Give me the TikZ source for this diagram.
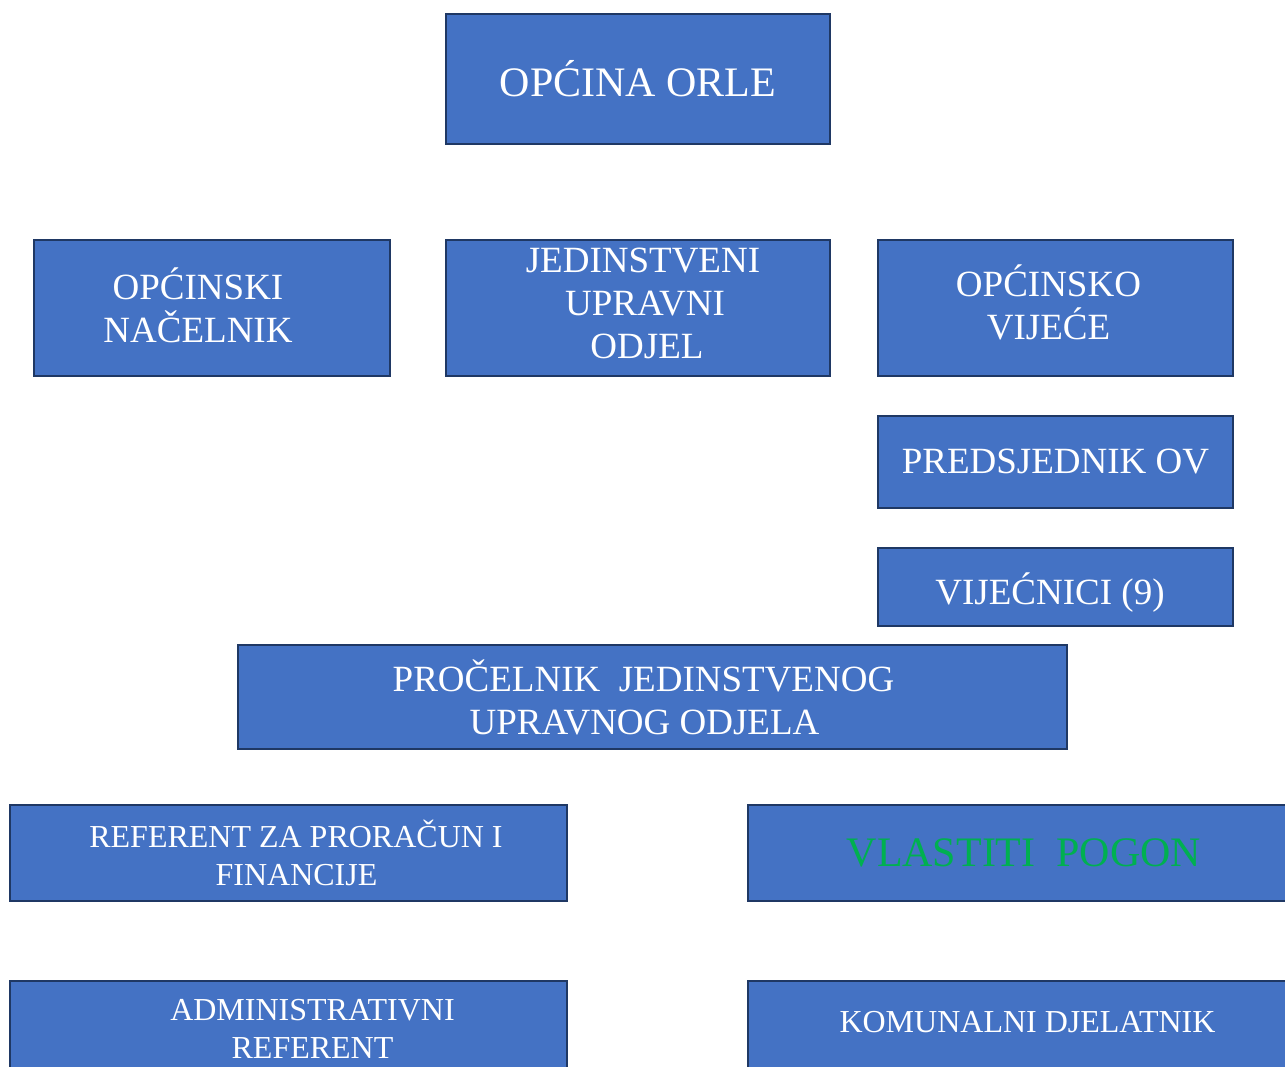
\documentclass[tikz,border=0pt]{standalone}
\usepackage{fontspec}
\setmainfont{Liberation Serif}
\definecolor{boxblue}{HTML}{4472C4}
\definecolor{boxedge}{HTML}{1F3864}
\definecolor{pogongreen}{HTML}{00B050}
\tikzset{
    unit/.style={draw=boxedge, fill=boxblue, line width=2.5pt, text=white,
        inner sep=0pt, align=center, font=\fontsize{37}{43}\selectfont},
    bigunit/.style={unit, font=\fontsize{42}{50}\selectfont},
    smallunit/.style={unit, font=\fontsize{32}{38}\selectfont},
}
\begin{document}
\begin{tikzpicture}[x=1pt,y=-1pt]
        \useasboundingbox (0,0) rectangle (1285,1066);
        % nodes
        \node[bigunit, minimum width=384pt, minimum height=130pt] (orle) at (638,79) {OPĆINA ORLE};
            \node[unit, minimum width=356pt, minimum height=136pt, text depth=6pt] (nacelnik) at (212,308) {\hspace*{-28pt}OPĆINSKI\\\hspace*{-28pt}NAČELNIK};
            \node[unit, minimum width=384pt, minimum height=136pt, text depth=10pt] (juo) at (638,308) {\hspace*{10pt}JEDINSTVENI\\\hspace*{14pt}UPRAVNI\\\hspace*{18pt}ODJEL};
            \node[unit, minimum width=355pt, minimum height=136pt, text depth=12pt] (vijece) at (1055.5,308) {\hspace*{-14pt}OPĆINSKO\\\hspace*{-14pt}VIJEĆE};
                \node[unit, minimum width=355pt, minimum height=92pt] (predsjednik) at (1055.5,462) {PREDSJEDNIK OV};
                \node[unit, minimum width=355pt, minimum height=78pt, text height=34pt, text depth=0pt] (vijecnici) at (1055.5,587) {\hspace*{-11pt}VIJEĆNICI (9)};
        \node[unit, minimum width=829pt, minimum height=104pt] (procelnik) at (652.5,697) {\hspace*{-18pt}PROČELNIK\ \ JEDINSTVENOG\\\hspace*{-16pt}UPRAVNOG ODJELA};
            \node[smallunit, minimum width=557pt, minimum height=96pt] (referent) at (288.5,853) {\hspace*{15pt}REFERENT ZA PRORAČUN I\\\hspace*{16pt}FINANCIJE};
            \node[bigunit, minimum width=552pt, minimum height=96pt, text=pogongreen] (pogon) at (1024,853) {VLASTITI\ \ POGON};
                \node[smallunit, minimum width=557pt, minimum height=96pt] (admin) at (288.5,1029) {\hspace*{48pt}ADMINISTRATIVNI\\\hspace*{48pt}REFERENT};
                \node[smallunit, minimum width=552pt, minimum height=96pt, text height=7pt, text depth=0pt] (komunalni) at (1024,1029) {\hspace*{7pt}KOMUNALNI DJELATNIK};
\end{tikzpicture}
\end{document}
